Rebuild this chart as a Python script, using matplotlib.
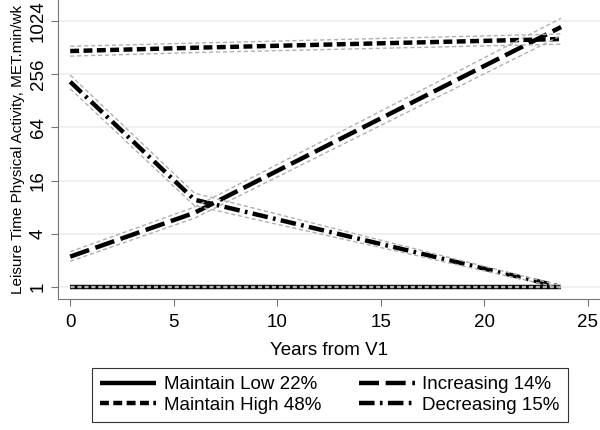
import matplotlib
matplotlib.use("Agg")
import matplotlib.pyplot as plt
import numpy as np

plt.rcParams['font.family'] = ['Liberation Sans', 'DejaVu Sans']

# Data
years = [0, 6, 23.7]
low_mid = [1, 1, 1]
low_lo = [0.985, 0.985, 0.985]
low_hi = [1.015, 1.015, 1.015]

high_mid = [468, 510, 640]
high_lo = [410, 450, 560]
high_hi = [530, 575, 730]

inc_mid = [2.2, 6.9, 875]
inc_lo = [1.95, 6.0, 700]
inc_hi = [2.5, 8.0, 1100]

dec_mid = [210, 9.7, 1]
dec_lo = [175, 8.3, 0.97]
dec_hi = [250, 11.5, 1.03]

labels = ["Maintain Low 22%", "Maintain High 48%", "Increasing 14%", "Decreasing 15%"]
yticks = [1, 4, 16, 64, 256, 1024]
xticks = [0, 5, 10, 15, 20, 25]

fig = plt.figure(figsize=(6, 4.3), dpi=100)
ax = fig.add_axes([0.097, 0.305, 0.903, 0.695])

styles = [
    (0, ()),
    (0, (2.0, 1.0)),
    (0, (4.5, 1.5)),
    (0, (3.5, 1.2, 0.6, 1.2)),
]
series = [
    (low_mid, low_lo, low_hi),
    (high_mid, high_lo, high_hi),
    (inc_mid, inc_lo, inc_hi),
    (dec_mid, dec_lo, dec_hi),
]
handles = []
for (mid, lo, hi), ls, lab in zip(series, styles, labels):
    h, = ax.plot(years, mid, color='black', lw=3.2, ls=ls, label=lab,
                 zorder=3, solid_capstyle='butt', dash_capstyle='butt')
    handles.append(h)
    for b in (lo, hi):
        ax.plot(years, b, color='#b0b0b0', lw=1.0, ls=(0, (3, 2)), zorder=4)

ax.set_yscale('log', base=2)
ax.set_ylim(2 ** -0.45, 2 ** 10.79)
ax.set_xlim(-0.58, 25.58)
ax.set_yticks(yticks)
ax.set_yticklabels([str(t) for t in yticks], rotation=90, va='center')
ax.minorticks_off()
ax.set_xticks(xticks)
ax.grid(axis='y', color='#eeeeee', lw=1.2)
ax.set_axisbelow(True)
for s in ('top', 'right'):
    ax.spines[s].set_visible(False)
for s in ('left', 'bottom'):
    ax.spines[s].set_color('#777777')
ax.tick_params(colors='#777777', labelcolor='black', length=5, labelsize=13.5)
ax.tick_params(axis='y', pad=3)
ax.tick_params(axis='x', pad=6)
ax.set_xlabel("Years from V1", fontsize=13.5, labelpad=8)
ax.set_ylabel("Leisure Time Physical Activity, MET.min/wk", fontsize=11, labelpad=4)

leg = fig.legend(handles=handles, loc='center', bbox_to_anchor=(0.55, 1 - 395 / 430),
                 ncol=2, fontsize=13.5, frameon=True, fancybox=False,
                 edgecolor='black', handlelength=3.0, columnspacing=2.0,
                 borderpad=0.45, labelspacing=0.2, handletextpad=0.4)
leg.get_frame().set_linewidth(0.8)

fig.savefig("out.png", dpi=100)
